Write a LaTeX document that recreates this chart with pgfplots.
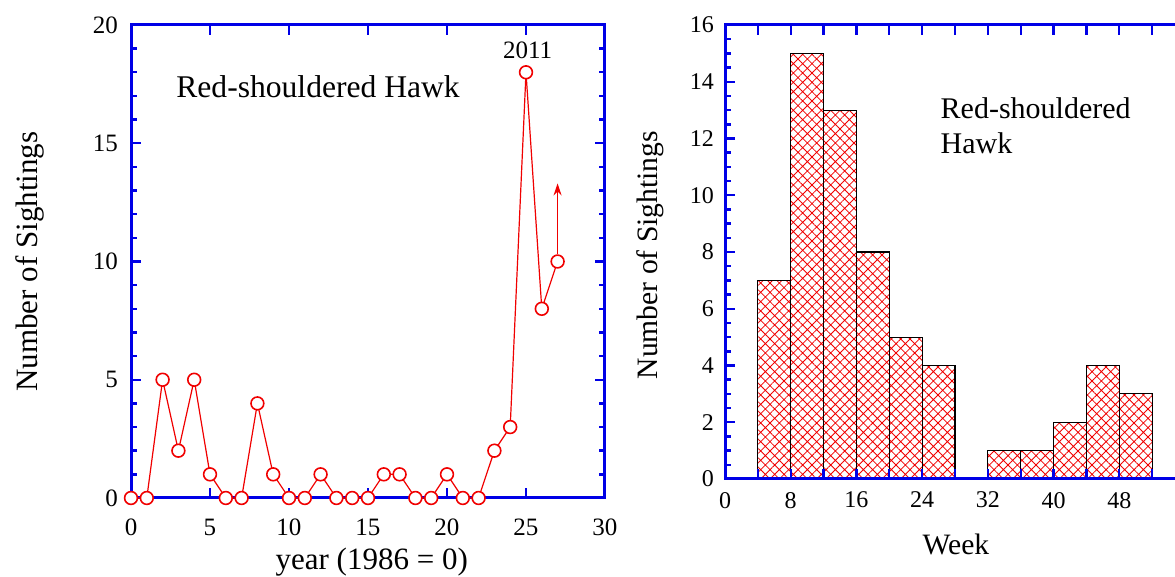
\documentclass[border=0pt]{standalone}
\usepackage{fontspec}
\setmainfont{Liberation Serif}
\usepackage{pgfplots}
\pgfplotsset{compat=1.18}
\usetikzlibrary{patterns.meta,arrows.meta}
\definecolor{axblue}{RGB}{0,0,230}
\definecolor{hawkred}{RGB}{240,0,0}
\begin{document}
\begin{tikzpicture}
\useasboundingbox (0,0) rectangle (587.5pt,288.5pt);
\clip (0,0) rectangle (587.5pt,288.5pt);
\pgfplotsset{
  myaxis/.style={
    scale only axis,
    axis line style={axblue, line width=1.5pt},
    every tick/.style={axblue, line width=1.2pt},
    tick align=inside,
    major tick length=5pt,
    minor tick length=3pt,
    /pgf/number format/assume math mode=true,
    tick label style={font=\fontsize{12.5}{14}\selectfont, black},
    label style={font=\fontsize{15.5}{18}\selectfont},
  }
}
% ---------------- left panel ----------------
\begin{axis}[myaxis,
  at={(65.5pt,39.5pt)}, anchor=south west,
  width=237pt, height=236.5pt,
  xmin=0, xmax=30, ymin=0, ymax=20,
  xtick={0,5,...,30}, ytick={0,5,...,20},
  minor y tick num=4,
  clip=false,
  xticklabel style={yshift=-7pt},
  yticklabel style={xshift=-3pt},
  xlabel={year (1986 = 0)},
  ylabel={Number of Sightings},
  xlabel style={at={(axis description cs:0.508,-0.135)}, anchor=center},
  ylabel style={at={(axis description cs:-0.213,0.5)}, anchor=center},
]
\addplot[hawkred, line width=0.6pt, -{Stealth[length=6pt,width=4pt]}] coordinates {(27,10.3) (27,13.3)};
\addplot[hawkred, line width=0.6pt, mark=*, mark size=3.2pt,
  mark options={fill=white, draw=hawkred, line width=0.8pt}] coordinates {
  (0,0) (1,0) (2,5) (3,2) (4,5) (5,1) (6,0) (7,0) (8,4) (9,1)
  (10,0) (11,0) (12,1) (13,0) (14,0) (15,0) (16,1) (17,1) (18,0) (19,0)
  (20,1) (21,0) (22,0) (23,2) (24,3) (25,18) (26,8) (27,10)
};
\node[font=\fontsize{12.5}{14}\selectfont] at (axis cs:25.1,18.95) {2011};
\node[font=\fontsize{15.8}{18}\selectfont] at (axis cs:11.84,17.38) {Red-shouldered Hawk};
\end{axis}
% ---------------- right panel ----------------
\begin{axis}[myaxis,
  at={(362.5pt,49pt)}, anchor=south west,
  width=230pt, height=227pt,
  xmin=0, xmax=56, ymin=0, ymax=16,
  xtick={0,4,...,56},
  xticklabels={0,,8,,16,,24,,32,,40,,48,,},
  ytick={0,2,...,16},
  minor y tick num=3,
  axis on top,
  xlabel={Week},
  ylabel={Number of Sightings},
  tick label style={font=\fontsize{12}{14}\selectfont, black},
  xticklabel style={yshift=-3pt},
  yticklabel style={xshift=-2pt},
  label style={font=\fontsize{14.8}{18}\selectfont},
  xlabel style={at={(axis description cs:0.502,-0.145)}, anchor=center},
  ylabel style={at={(axis description cs:-0.163,0.493)}, anchor=center},
]
\addplot[ybar interval, draw=black, line width=0.6pt,
  pattern={Hatch[angle=45,distance=3.3pt,line width=0.4pt]}, pattern color=hawkred]
  coordinates {(4,7) (8,15) (12,13) (16,8) (20,5) (24,4) (28,4)};
\addplot[ybar interval, draw=black, line width=0.6pt,
  pattern={Hatch[angle=45,distance=3.3pt,line width=0.4pt]}, pattern color=hawkred]
  coordinates {(32,1) (36,1) (40,2) (44,4) (48,3) (52,3)};
\node[anchor=west, align=left, font=\fontsize{15}{17.5}\selectfont] at (axis cs:25.4,12.45) {Red-shouldered\\Hawk};
\end{axis}
\end{tikzpicture}
\end{document}
